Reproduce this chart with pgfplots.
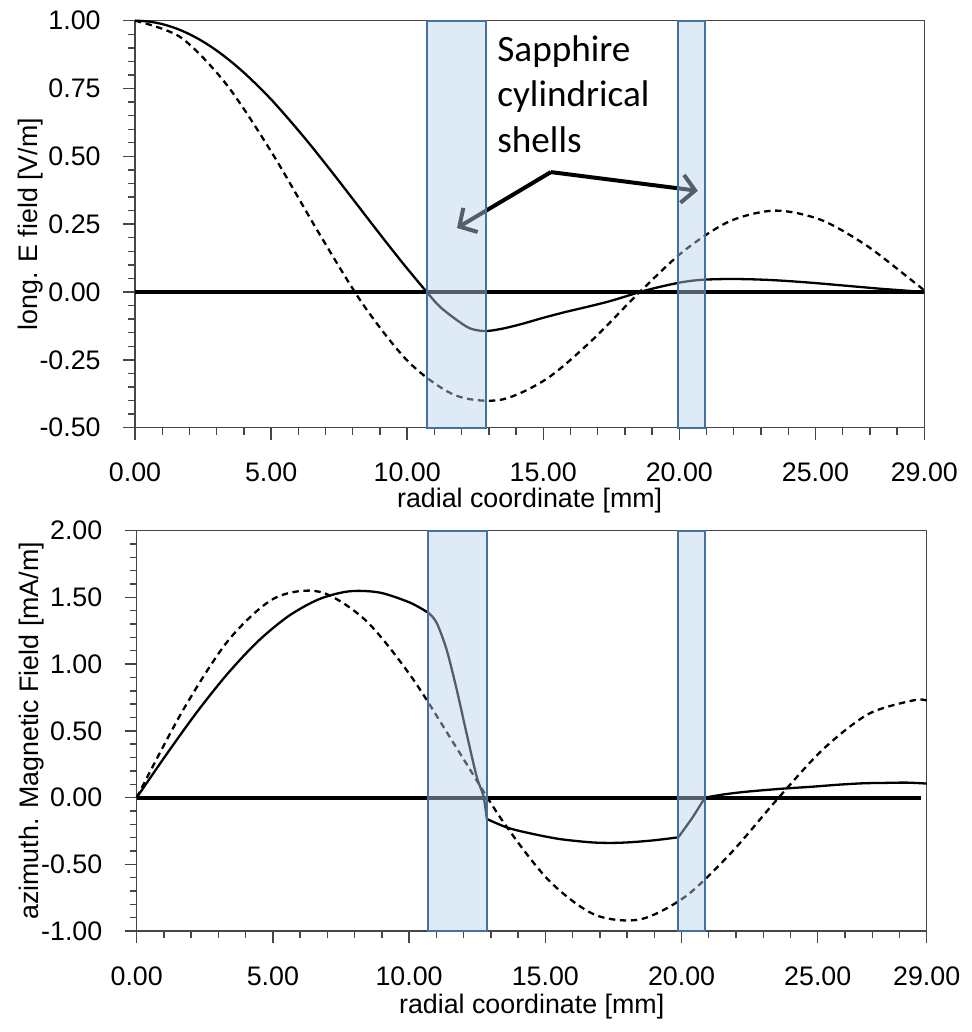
\documentclass[border=0pt]{standalone}
\usepackage{fontspec}
\setmainfont{Liberation Sans}
\newfontfamily\callfont{Carlito}
\usepackage{pgfplots}
\pgfplotsset{compat=1.18}
\usetikzlibrary{arrows.meta}
\definecolor{boxfill}{RGB}{185,208,238}
\definecolor{boxedge}{RGB}{68,114,160}
\definecolor{axgray}{RGB}{70,70,70}
\newcommand{\lblfont}{\fontsize{13.4}{16}\selectfont}

\tikzset{
  myarrow/.style={black, line width=2pt, -{Straight Barb[length=6.5pt,width=14pt]}},
  annot/.style={anchor=base west, inner sep=0pt, font=\callfont\fontsize{18.6}{22}\selectfont},
}
\pgfplotsset{
  myaxis/.style={
    scale only axis,
    clip=false,
    xmin=0, xmax=29,
    xtick={0,5,10,15,20,25,29},
    minor xtick={1,2,3,4,6,7,8,9,11,12,13,14,16,17,18,19,21,22,23,24,26,27,28},
    tick align=outside,
    xtick pos=left, ytick pos=left,
    major tick length=6pt, minor tick length=3.5pt,
    axis line style={axgray, line width=0.7pt},
    every tick/.style={axgray, line width=0.7pt},
    tick label style={font=\lblfont, inner sep=0pt},
    xticklabel style={anchor=north},
    yticklabel style={anchor=east},
    xticklabel shift=11.5pt,
    yticklabel shift=11pt,
    /pgf/number format/fixed,
    /pgf/number format/fixed zerofill,
    /pgf/number format/precision=2,
    /pgf/number format/assume math mode=true,
    xlabel={radial coordinate [mm]},
  },
  solidc/.style={black, line width=1.15pt, smooth, tension=0.5},
  dashc/.style={black, line width=1.15pt, smooth, tension=0.5, dash pattern=on 3.2pt off 2.3pt},
  zeroline/.style={black, line width=2pt},
}

\begin{document}
\begin{tikzpicture}
\path[use as bounding box] (0,0) rectangle (486pt,516pt);

% ---------------- top axis ----------------
\begin{axis}[myaxis,
  at={(67.5pt,302.15pt)}, anchor=south west,
  width=394.65pt, height=203.5pt,
  ymin=-0.5, ymax=1,
  ytick={-0.5,-0.25,0,0.25,0.5,0.75,1},
  minor ytick={-0.45,-0.4,-0.35,-0.3,-0.2,-0.15,-0.1,-0.05,0.05,0.1,0.15,0.2,0.3,0.35,0.4,0.45,0.55,0.6,0.65,0.7,0.8,0.85,0.9,0.95},
  ylabel={long. E field [V/m]},
  every axis y label/.style={at={(axis description cs:-0.1318,0.5)}, rotate=90, anchor=center, font=\lblfont},
  every axis x label/.style={at={(axis description cs:0.5,-0.178)}, anchor=center, font=\lblfont},
]
\addplot[zeroline] coordinates {(0,0) (29,0)};
% solid curve
\addplot[solidc] coordinates {
(0,1.0) (0.5,0.997) (1,0.9875) (1.5,0.9719) (2,0.9503) (2.5,0.9229) (3,0.89)
(3.5,0.8517) (4,0.8088) (4.5,0.7611) (5,0.7102) (5.5,0.6542) (6,0.5958) (6.5,0.5352)
(7,0.4722) (7.5,0.4082) (8,0.3432) (8.5,0.278) (9,0.2131) (9.5,0.1491) (10,0.0865)
(10.72,0.0) (11.2,-0.054) (11.82,-0.103) (12.31,-0.134) (12.86,-0.144)
(13.5,-0.135) (14.2,-0.118) (15.0,-0.095) (15.8,-0.074) (16.6,-0.055) (17.4,-0.035)
(18.0,-0.017) (18.55,0.0) (19.2,0.017) (19.97,0.034) (20.5,0.042) (21.0,0.046)
(21.8,0.048) (22.6,0.047) (23.4,0.044) (24.2,0.039) (25.0,0.033) (25.8,0.026)
(26.6,0.019) (27.4,0.012) (28.2,0.006) (29,0.0)};
% dashed curve
\addplot[dashc] coordinates {
(0,1.0) (1.680,0.9385) (3.359,0.7652) (5.039,0.5118) (6.718,0.2239) (8.398,-0.0484)
(10.077,-0.2601) (11.757,-0.3801) (13.436,-0.3971) (15.116,-0.3205) (16.795,-0.1776)
(18.475,-0.0068) (20.154,0.1506) (21.834,0.2601) (23.513,0.3001) (25.193,0.2663)
(26.872,0.1717) (28.552,0.0419) (29,0.0056)};
% annotation
\draw[myarrow] (axis cs:15.28,0.442) -- (axis cs:11.83,0.236);
\draw[myarrow] (axis cs:15.28,0.442) -- (axis cs:20.68,0.373);
\node[annot] at (axis cs:13.3,0.848) {Sapphire};
\node[annot] at (axis cs:13.3,0.682) {cylindrical};
\node[annot] at (axis cs:13.3,0.516) {shells};
% shells
\fill[boxfill, fill opacity=0.45] (axis cs:10.72,-0.5) rectangle (axis cs:12.9,1);
\fill[boxfill, fill opacity=0.45] (axis cs:19.96,-0.5) rectangle (axis cs:20.95,1);
\draw[boxedge, line width=1pt] (axis cs:10.72,-0.5) rectangle (axis cs:12.9,1);
\draw[boxedge, line width=1pt] (axis cs:19.96,-0.5) rectangle (axis cs:20.95,1);
\end{axis}

% ---------------- bottom axis ----------------
\begin{axis}[myaxis,
  at={(68.35pt,50.5pt)}, anchor=south west,
  width=395pt, height=200.15pt,
  ymin=-1, ymax=2,
  ytick={-1,-0.5,0,0.5,1,1.5,2},
  minor ytick={-0.9,-0.8,-0.7,-0.6,-0.4,-0.3,-0.2,-0.1,0.1,0.2,0.3,0.4,0.6,0.7,0.8,0.9,1.1,1.2,1.3,1.4,1.6,1.7,1.8,1.9},
  ylabel={azimuth. Magnetic Field [mA/m]},
  every axis y label/.style={at={(axis description cs:-0.1325,0.5)}, rotate=90, anchor=center, font=\lblfont},
  every axis x label/.style={at={(axis description cs:0.5,-0.19)}, anchor=center, font=\lblfont},
]
\addplot[zeroline] coordinates {(0,0) (28.8,0)};
% solid curve, segments
\addplot[solidc] coordinates {
(0,0) (1.115,0.330) (2.229,0.6455) (3.344,0.930) (4.458,1.1724) (5.573,1.360)
(6.687,1.4862) (7.802,1.5457) (8.917,1.5363) (10.031,1.461) (10.72,1.383)};
\addplot[solidc] coordinates {
(10.72,1.383) (11.01,1.31) (11.38,1.106) (11.75,0.807) (12.11,0.48) (12.48,0.157)
(12.73,0.01) (12.85,-0.16)};
\addplot[solidc] coordinates {
(12.85,-0.16) (13.6,-0.225) (14.44,-0.268) (15.5,-0.31) (16.64,-0.335) (17.4,-0.34)
(18.11,-0.335) (19.0,-0.32) (19.88,-0.298)};
\addplot[solidc] coordinates {(19.88,-0.298) (20.4,-0.15) (20.86,0.0)};
\addplot[solidc] coordinates {
(20.86,0.0) (21.6,0.025) (22.39,0.044) (23.6,0.065) (24.84,0.082) (25.8,0.097)
(26.67,0.107) (27.5,0.11) (28.26,0.112) (29,0.105)};
% dashed curve
\addplot[dashc] coordinates {
(0,0) (1.680,0.6479) (3.359,1.1768) (5.039,1.4918) (6.718,1.5421) (8.398,1.3293)
(10.077,0.9068) (11.757,0.3674) (13.436,-0.1765) (15.116,-0.618) (16.795,-0.876)
(18.475,-0.9129) (20.154,-0.7399) (21.834,-0.4113) (23.513,-0.0126) (25.193,0.3615)
(26.872,0.6273) (28.552,0.7303) (29,0.7263)};
% shells
\fill[boxfill, fill opacity=0.45] (axis cs:10.68,-1) rectangle (axis cs:12.85,2);
\fill[boxfill, fill opacity=0.45] (axis cs:19.88,-1) rectangle (axis cs:20.87,2);
\draw[boxedge, line width=1pt] (axis cs:10.68,-1) rectangle (axis cs:12.85,2);
\draw[boxedge, line width=1pt] (axis cs:19.88,-1) rectangle (axis cs:20.87,2);
\end{axis}
\end{tikzpicture}
\end{document}
